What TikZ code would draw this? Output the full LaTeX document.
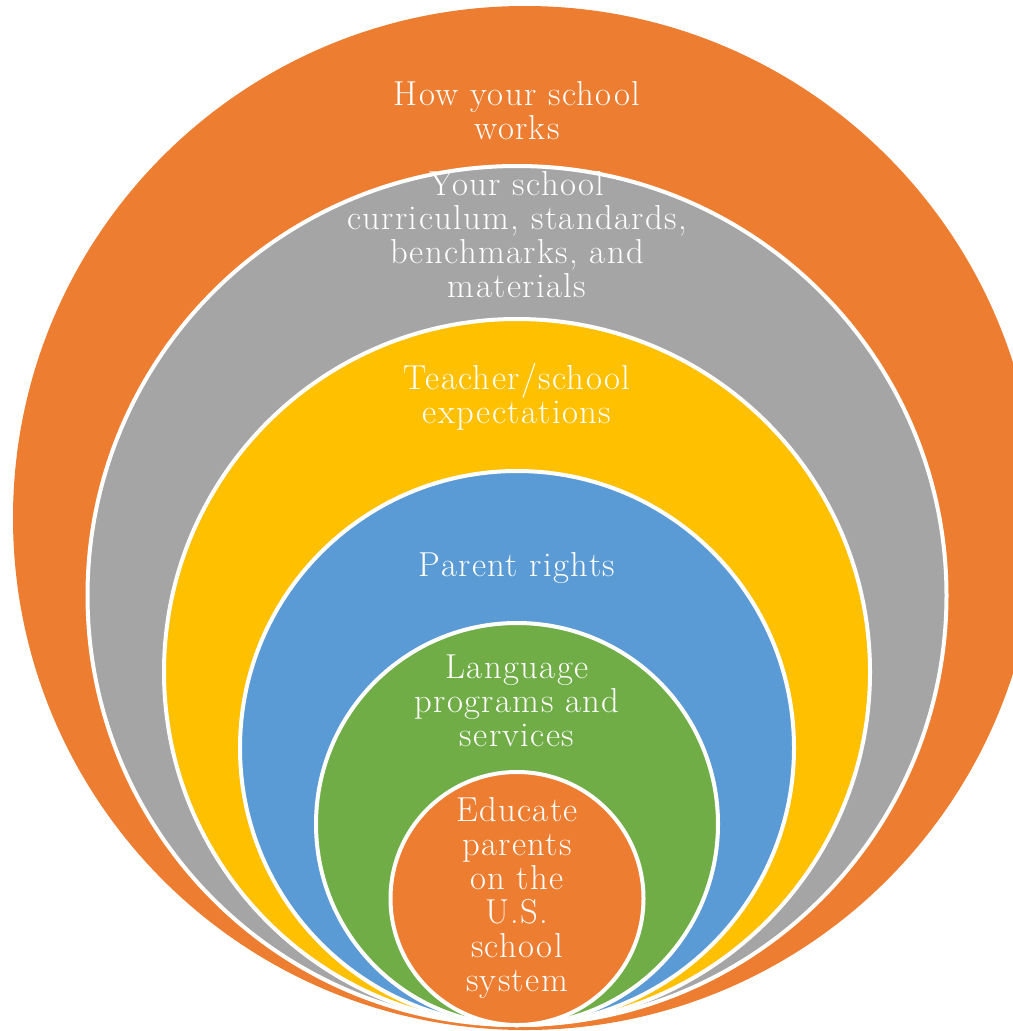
\documentclass[tikz,border=0pt]{standalone}
\usepackage{fontspec}
\setmainfont{Latin Modern Roman}[LetterSpace=4.0]
\definecolor{orng}{HTML}{ED7D31}
\definecolor{gry}{HTML}{A5A5A5}
\definecolor{ylw}{HTML}{FFC000}
\definecolor{blu}{HTML}{5B9BD5}
\definecolor{grn}{HTML}{70AD47}
\begin{document}
\begin{tikzpicture}[x=0.75pt,y=-0.75pt,
  ring/.style={draw=white, line width=3pt},
  lbl/.style={text=white, align=center, inner sep=0pt,
    font=\fontsize{26}{25.5}\selectfont}]
\useasboundingbox (0,0) rectangle (1013,1031);
% nested circles, all touching near the bottom
\fill[orng] (525,518) circle[radius=512];
\draw[ring, fill=gry] (517,595.5) circle[radius=429.5];
\draw[ring, fill=ylw] (517,672) circle[radius=353];
\draw[ring, fill=blu] (517,748) circle[radius=277];
\draw[ring, fill=grn] (517,824) circle[radius=201];
\draw[ring, fill=orng] (517,898.5) circle[radius=126.5];
% labels
\node[lbl] (t1) at (517,111) {How your school\\works};
\node[lbl] (t2) at (517,235) {Your school\\curriculum, standards,\\benchmarks, and\\materials};
\node[lbl] (t3) at (517,397.3) {Teacher/school\\expectations};
\node[lbl] (t4) at (517,568.3) {Parent rights};
\node[lbl] (t5) at (517,701.2) {Language\\programs and\\services};
\node[lbl] (t6) at (517,898.3) {Educate\\parents\\on the\\U.S.\\school\\system};
\end{tikzpicture}
\end{document}
